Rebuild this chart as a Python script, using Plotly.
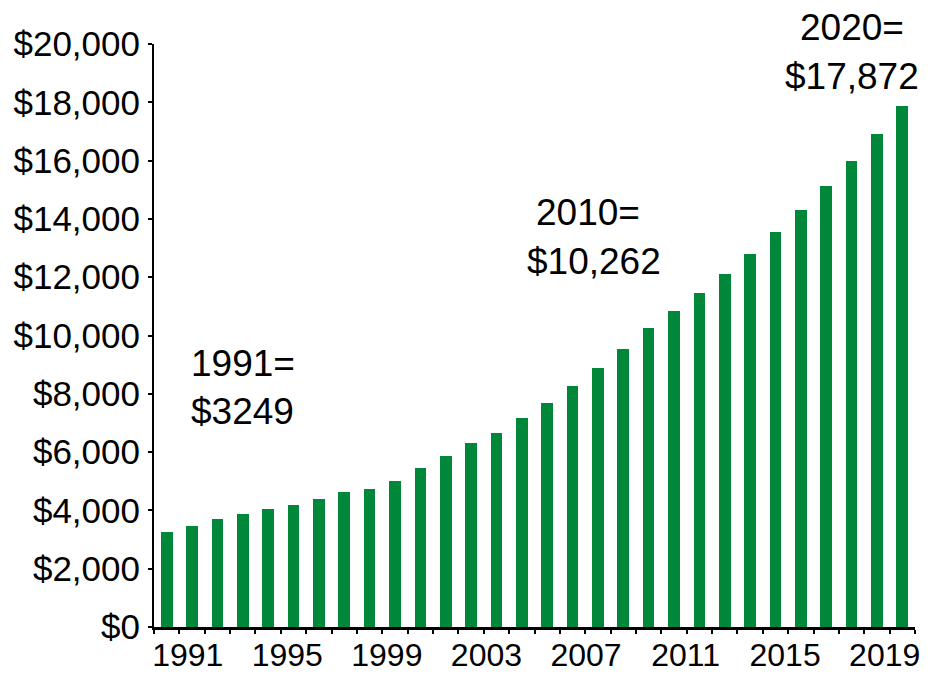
import plotly.graph_objects as go

years = list(range(1991, 2021))
values = [3249, 3450, 3700, 3865, 4035, 4195, 4390, 4620, 4725, 5010,
          5455, 5865, 6300, 6655, 7155, 7695, 8265, 8875, 9525, 10262,
          10840, 11455, 12110, 12795, 13535, 14305, 15115, 15985, 16900, 17872]
tick_years = [1991, 1995, 1999, 2003, 2007, 2011, 2015, 2019]
tick_labels = [str(y) for y in tick_years]
y_ticks = list(range(0, 20001, 2000))
y_tick_labels = ["${:,}".format(v) for v in y_ticks]

FONT = "Liberation Sans Narrow, Arial Narrow, Liberation Sans, Arial, sans-serif"
GREEN = "#00873A"

fig = go.Figure()
fig.add_trace(go.Bar(x=years, y=values, marker=dict(color=GREEN, line=dict(width=0)),
                     width=0.46, showlegend=False))

tick_pos = [y + 0.83 - 0.075 * i for i, y in enumerate(tick_years)]

fig.update_layout(
    width=938, height=674,
    margin=dict(l=154, r=23, t=44, b=47, autoexpand=False),
    paper_bgcolor="white", plot_bgcolor="white",
    font=dict(family=FONT, size=35, color="black"),
    xaxis=dict(range=[1990.5, 2020.5], tickmode="array", tickvals=tick_pos,
               ticktext=tick_labels, ticks="", ticklen=0, showgrid=False, zeroline=False,
               showline=True, linecolor="black", linewidth=3, automargin=False,
               tickfont=dict(size=32), ticklabelstandoff=-2,
               minor=dict(tickmode="linear", tick0=1990.5, dtick=1, ticks="outside",
                          ticklen=4, tickwidth=1.5, tickcolor="black", showgrid=False)),
    yaxis=dict(range=[0, 20000], tickmode="array", tickvals=y_ticks,
               ticktext=y_tick_labels, ticks="outside", ticklen=4, tickwidth=1.5,
               tickcolor="black", showgrid=False, zeroline=False, automargin=False,
               showline=True, linecolor="black", linewidth=2,
               tickfont=dict(size=35), ticklabelstandoff=1),
    bargap=0,
)

notes = [
    ("1991=", 1994.0, 9050, "y"), ("$3249", 1994.0, 7400, "y"),
    ("2010=", 2007.6, 14235, "y"), ("$10,262", 2007.85, 12537, "y"),
    ("2020=", 2018.0, 20580, "paper"), ("$17,872", 2018.0, 18880, "y"),
]
for text, x, y, ref in notes:
    yy = y / 20000 if ref == "paper" else y
    fig.add_annotation(x=x, y=yy, xref="x", yref=ref, text=text, showarrow=False,
                       xanchor="center", yanchor="middle",
                       font=dict(family=FONT, size=37, color="black"))

fig.write_html("out.html", config={"displayModeBar": False},
               post_script="document.body.style.margin='0px';")
